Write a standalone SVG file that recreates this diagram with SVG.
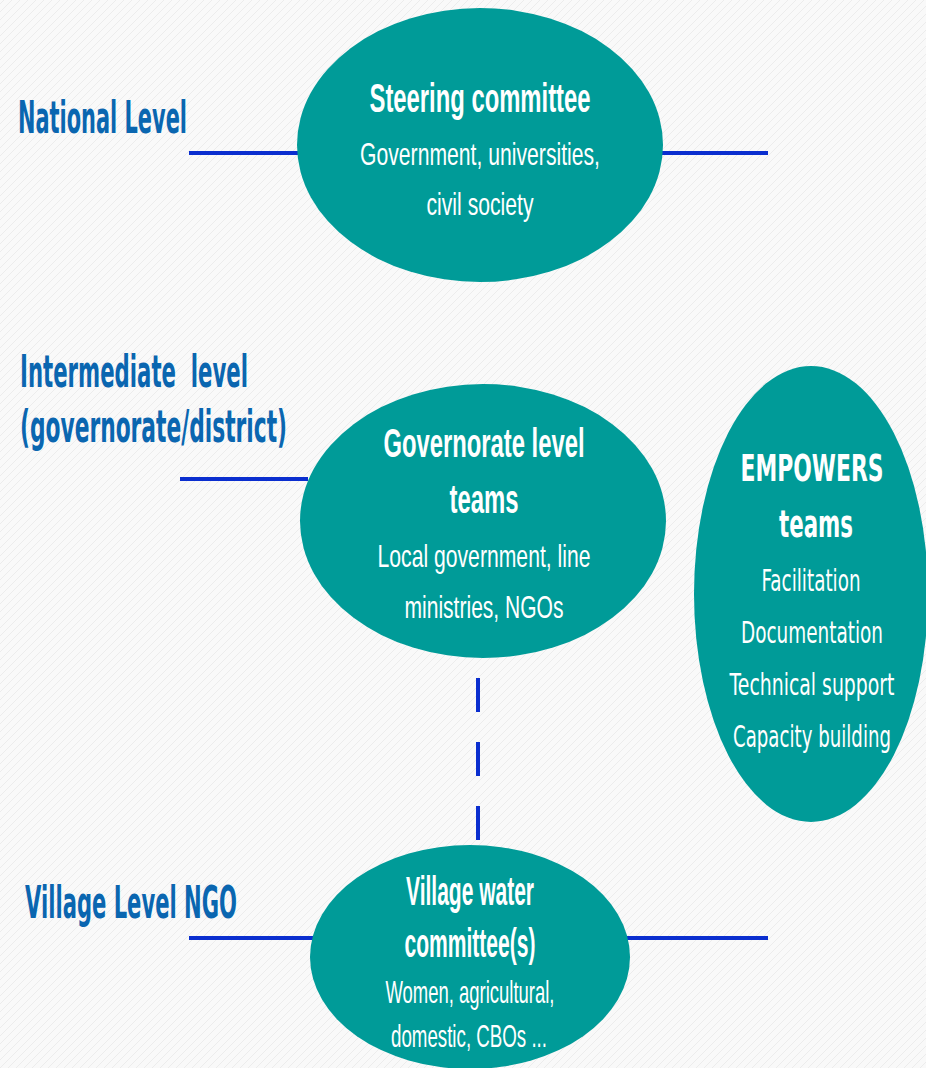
<svg xmlns="http://www.w3.org/2000/svg" width="926" height="1068" viewBox="0 0 926 1068">
<defs>
<pattern id="bg" width="8" height="8" patternUnits="userSpaceOnUse">
<rect width="8" height="8" fill="#f9f9f9"/>
<path d="M0 4 L4 0 M4 8 L8 4" stroke="#ececec" stroke-width="1"/>
</pattern>
</defs>
<style>
.node{fill:#009B98}
.lvl{font-family:"DejaVu Sans",Verdana,sans-serif;font-weight:bold;fill:#0A66B0;font-size:44px}
.tb{font-family:"Liberation Sans",Arial,sans-serif;font-weight:bold;fill:#fff;font-size:40px;text-anchor:middle}
.tr{font-family:"Liberation Sans",Arial,sans-serif;fill:#fff;font-size:32px;text-anchor:middle}
.eb{font-family:"DejaVu Sans",Verdana,sans-serif;font-weight:bold;fill:#fff;font-size:38px;text-anchor:middle}
.er{font-family:"DejaVu Sans",Verdana,sans-serif;fill:#fff;font-size:30px;text-anchor:middle}
.ln{stroke:#0A2ECF;stroke-width:4;fill:none}
</style>
<rect width="926" height="1068" fill="url(#bg)"/>
<g id="connectors">
<line class="ln" x1="189" y1="153" x2="300" y2="153"/>
<line class="ln" x1="660" y1="153" x2="768" y2="153"/>
<line class="ln" x1="180" y1="479" x2="308" y2="479"/>
<line class="ln" x1="478" y1="678" x2="478" y2="845" stroke-dasharray="34 30"/>
<line class="ln" x1="189" y1="938" x2="314" y2="938"/>
<line class="ln" x1="626" y1="938" x2="768" y2="938"/>
</g>
<g id="labels">
<text class="lvl" x="18" y="133" textLength="169" lengthAdjust="spacingAndGlyphs">National Level</text>
<text class="lvl" x="20" y="387" textLength="228" lengthAdjust="spacingAndGlyphs" xml:space="preserve">Intermediate  level</text>
<text class="lvl" x="20" y="442" textLength="267" lengthAdjust="spacingAndGlyphs">(governorate/district)</text>
<text class="lvl" x="25" y="918" textLength="212" lengthAdjust="spacingAndGlyphs">Village Level NGO</text>
</g>
<g id="steering">
<ellipse class="node" cx="480" cy="145" rx="183" ry="137"/>
<text class="tb" x="480" y="112" textLength="221" lengthAdjust="spacingAndGlyphs">Steering committee</text>
<text class="tr" x="480" y="165" textLength="240" lengthAdjust="spacingAndGlyphs">Government, universities,</text>
<text class="tr" x="480" y="215" textLength="107" lengthAdjust="spacingAndGlyphs">civil society</text>
</g>
<g id="governorate">
<ellipse class="node" cx="483" cy="521" rx="183" ry="137"/>
<text class="tb" x="484" y="457" textLength="201" lengthAdjust="spacingAndGlyphs">Governorate level</text>
<text class="tb" x="484" y="513" textLength="69" lengthAdjust="spacingAndGlyphs">teams</text>
<text class="tr" x="484" y="567" textLength="213" lengthAdjust="spacingAndGlyphs">Local government, line</text>
<text class="tr" x="484" y="618" textLength="159" lengthAdjust="spacingAndGlyphs">ministries, NGOs</text>
</g>
<g id="empowers">
<ellipse class="node" cx="811" cy="594" rx="117" ry="228"/>
<text class="eb" x="812" y="481" textLength="143" lengthAdjust="spacingAndGlyphs">EMPOWERS</text>
<text class="eb" x="816" y="537" textLength="74" lengthAdjust="spacingAndGlyphs">teams</text>
<text class="er" x="811" y="591" textLength="99" lengthAdjust="spacingAndGlyphs">Facilitation</text>
<text class="er" x="812" y="643" textLength="142" lengthAdjust="spacingAndGlyphs">Documentation</text>
<text class="er" x="812" y="695" textLength="165" lengthAdjust="spacingAndGlyphs">Technical support</text>
<text class="er" x="812" y="747" textLength="158" lengthAdjust="spacingAndGlyphs">Capacity building</text>
</g>
<g id="village">
<ellipse class="node" cx="470" cy="957" rx="160" ry="112"/>
<text class="tb" x="470" y="905" textLength="128" lengthAdjust="spacingAndGlyphs">Village water</text>
<text class="tb" x="470" y="957" textLength="131" lengthAdjust="spacingAndGlyphs">committee(s)</text>
<text class="tr" x="470" y="1003" textLength="169" lengthAdjust="spacingAndGlyphs">Women, agricultural,</text>
<text class="tr" x="469" y="1047" textLength="156" lengthAdjust="spacingAndGlyphs">domestic, CBOs ...</text>
</g>
</svg>
